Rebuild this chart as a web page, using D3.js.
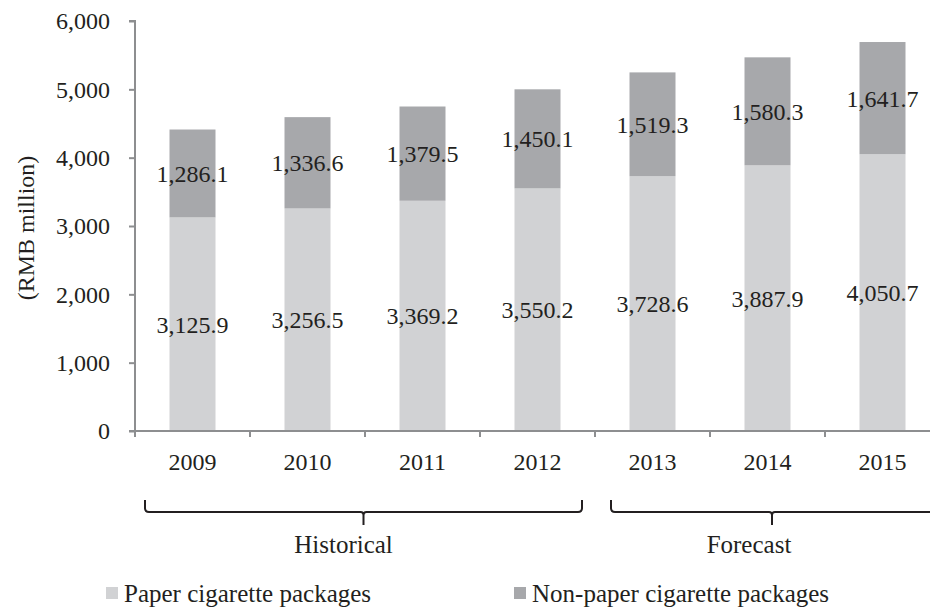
<!DOCTYPE html>
<html lang="en">
<head>
  <meta charset="UTF-8">
  <title>Cigarette packages market</title>
  <script src="https://d3js.org/d3.v7.min.js"></script>
  <style>
    body {
      margin: 0;
      background: #ffffff;
    }

    text {
      font-family: "Liberation Serif", "Times New Roman", serif;
      font-size: 24px;
      fill: #231f20;
    }

    .big {
      font-size: 25px;
    }
  </style>
</head>
<body>

<svg width="930" height="607"></svg>

<script>
  const years = ["2009", "2010", "2011", "2012", "2013", "2014", "2015"];
  const paper = [3125.9, 3256.5, 3369.2, 3550.2, 3728.6, 3887.9, 4050.7];
  const nonPaper = [1286.1, 1336.6, 1379.5, 1450.1, 1519.3, 1580.3, 1641.7];
  const yTicks = [0, 1000, 2000, 3000, 4000, 5000, 6000];
  const seriesNames = ["Paper cigarette packages", "Non-paper cigarette packages"];
  const periods = [
    {label: "Historical", from: 0, to: 4},
    {label: "Forecast", from: 4, to: 7}
  ];

  const colors = ["#d1d2d4", "#a7a8ab"];
  const axisColor = "#8d8e90";

  const svg = d3.select("svg");

  const x = d3.scaleBand()
    .domain(years)
    .range([135, 135 + 115 * years.length])
    .paddingInner(0.6)
    .paddingOuter(0.3);

  const y = d3.scaleLinear()
    .domain([0, 6000])
    .range([431, 21]);

  const fmt = d3.format(",.1f");

  // stacked data
  const rows = years.map((yr, i) => ({year: yr, paper: paper[i], nonPaper: nonPaper[i]}));
  const stack = d3.stack().keys(["paper", "nonPaper"])(rows);

  svg.selectAll(".series")
    .data(stack)
    .enter()
    .append("g")
    .attr("class", "series")
    .attr("fill", (d, i) => colors[i])
    .selectAll("rect")
    .data(d => d)
    .enter()
    .append("rect")
    .attr("x", d => x(d.data.year))
    .attr("y", d => y(d[1]))
    .attr("width", x.bandwidth())
    .attr("height", d => y(d[0]) - y(d[1]));

  // value labels, centered in each segment
  stack.forEach(layer => {
    svg.selectAll(null)
      .data(layer)
      .enter()
      .append("text")
      .attr("x", d => x(d.data.year) + x.bandwidth() / 2)
      .attr("y", d => (y(d[0]) + y(d[1])) / 2)
      .attr("dy", "0.35em")
      .attr("text-anchor", "middle")
      .text(d => fmt(d[1] - d[0]));
  });

  // y axis
  const yAxis = svg.append("g")
    .attr("transform", "translate(135,0)")
    .call(d3.axisLeft(y).tickValues(yTicks).tickFormat(d3.format(",")).tickSize(6).tickPadding(19));
  yAxis.select(".domain").attr("stroke", axisColor).attr("stroke-width", 2)
    .attr("d", `M-6,${y(6000)}H0V${y(0)}`);
  yAxis.selectAll(".tick line").attr("stroke", axisColor).attr("stroke-width", 2);
  yAxis.selectAll(".tick text")
    .attr("fill", "#231f20")
    .style("font-size", "24px")
    .style("font-family", "Liberation Serif, serif");

  // x axis with ticks between categories
  const x0 = x.range()[0], x1 = x.range()[1];
  const step = x.step();
  svg.append("line")
    .attr("x1", x0 - 6).attr("x2", x1)
    .attr("y1", y(0)).attr("y2", y(0))
    .attr("stroke", axisColor).attr("stroke-width", 2);

  svg.selectAll(".xtick")
    .data(d3.range(years.length + 1))
    .enter()
    .append("line")
    .attr("x1", i => x0 + i * step)
    .attr("x2", i => x0 + i * step)
    .attr("y1", y(0))
    .attr("y2", y(0) + 6)
    .attr("stroke", axisColor)
    .attr("stroke-width", 2);

  svg.selectAll(".xlabel")
    .data(years)
    .enter()
    .append("text")
    .attr("x", d => x(d) + x.bandwidth() / 2)
    .attr("y", 470)
    .attr("text-anchor", "middle")
    .text(d => d);

  // y axis title
  svg.append("text")
    .attr("transform", "translate(26,228) rotate(-90)")
    .attr("text-anchor", "middle")
    .attr("dy", "0.35em")
    .text("(RMB million)");

  // period brackets
  const bracketY = 512, curl = 12, r = 4;
  periods.forEach((p, i) => {
    const left = i === 0 ? x0 + 10 : x0 + p.from * step + 16;
    const right = i === 0 ? x0 + p.to * step - 13 : x1 - 7;
    const mid = (left + right) / 2;
    const path = d3.path();
    path.moveTo(left, bracketY - curl);
    path.lineTo(left, bracketY - r);
    path.quadraticCurveTo(left, bracketY, left + r, bracketY);
    path.lineTo(mid - 3, bracketY);
    path.quadraticCurveTo(mid, bracketY, mid, bracketY + 3);
    path.lineTo(mid, bracketY + 13);
    path.moveTo(mid, bracketY + 3);
    path.quadraticCurveTo(mid, bracketY, mid + 3, bracketY);
    path.lineTo(right - r, bracketY);
    path.quadraticCurveTo(right, bracketY, right, bracketY - r);
    path.lineTo(right, bracketY - curl);
    svg.append("path")
      .attr("d", path.toString())
      .attr("fill", "none")
      .attr("stroke", "#231f20")
      .attr("stroke-width", 2);

    svg.append("text")
      .attr("class", "big")
      .attr("x", mid - (i === 0 ? 20 : 23))
      .attr("y", 553)
      .attr("text-anchor", "middle")
      .text(p.label);
  });

  // legend
  const legendX = [106, 514];
  seriesNames.forEach((name, i) => {
    svg.append("rect")
      .attr("x", legendX[i])
      .attr("y", 587)
      .attr("width", 12)
      .attr("height", 12)
      .attr("fill", colors[i]);
    svg.append("text")
      .attr("class", "big")
      .attr("x", legendX[i] + 18)
      .attr("y", 602)
      .text(name);
  });
</script>

</body>
</html>
